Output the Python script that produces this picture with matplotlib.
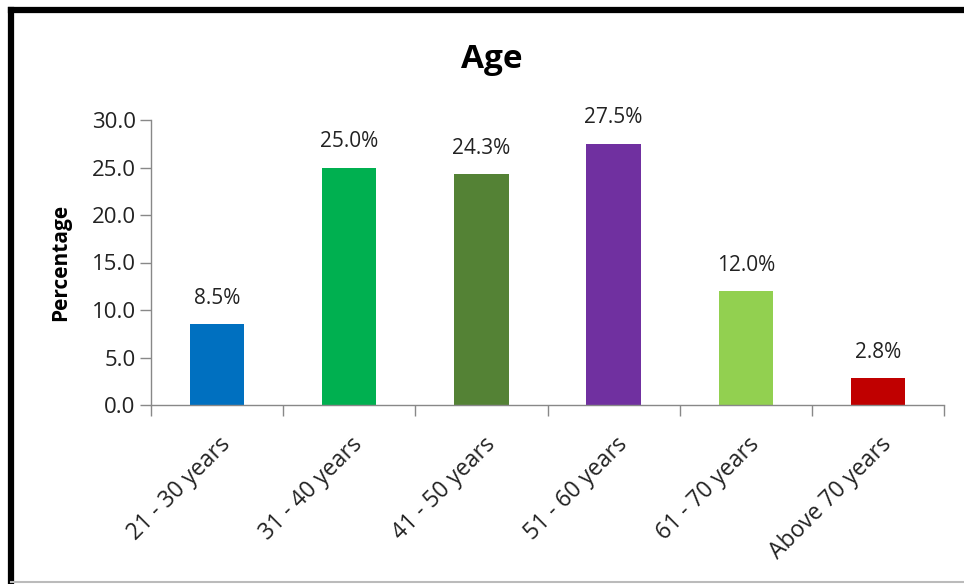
import matplotlib
matplotlib.use("Agg")
import matplotlib.pyplot as plt
from matplotlib.lines import Line2D
from matplotlib.transforms import ScaledTranslation

categories = ["21 - 30 years", "31 - 40 years", "41 - 50 years",
              "51 - 60 years", "61 - 70 years", "Above 70 years"]
values = [8.5, 25.0, 24.3, 27.5, 12.0, 2.8]
colors = ["#0070C0", "#00B050", "#548235", "#7030A0", "#92D050", "#C00000"]
yticks = [0, 5, 10, 15, 20, 25, 30]

plt.rcParams['font.family'] = ['Open Sans', 'DejaVu Sans']

W, H = 964, 584
fig = plt.figure(figsize=(W / 100, H / 100), dpi=100)
ax = fig.add_axes([151 / W, 1 - 405 / H, (944 - 151) / W, (405 - 120) / H])

x = range(len(categories))
ax.bar(x, values, width=0.41, color=colors, zorder=2)
for i, v in enumerate(values):
    ax.annotate(f"{v:.1f}%", (i, v), xytext=(0, 11), textcoords="offset points",
                ha="center", va="bottom", fontsize=15, color="#222222")

ax.set_xlim(-0.5, len(categories) - 0.5)
ax.set_ylim(0, 30)
ax.set_yticks(yticks)
ax.set_yticklabels([f"{t:.1f}" for t in yticks], fontsize=16, color="#222222")
ax.tick_params(axis="y", length=8, width=1, color="#888888", pad=3)

ax.set_xticks([i - 0.5 for i in range(len(categories) + 1)], minor=False)
ax.set_xticklabels([""] * (len(categories) + 1))
ax.tick_params(axis="x", length=8, width=1, color="#888888")
ax.set_xticks(list(x), minor=True)
ax.set_xticklabels(categories, minor=True, rotation=45, ha="right", va="center",
                   rotation_mode="anchor", fontsize=16.5, color="#222222")
ax.tick_params(axis="x", which="minor", length=0, pad=26)
shift = ScaledTranslation(0.10, 0, fig.dpi_scale_trans)
for lab in ax.get_xticklabels(minor=True):
    lab.set_transform(lab.get_transform() + shift)

for s in ["top", "right"]:
    ax.spines[s].set_visible(False)
for s in ["left", "bottom"]:
    ax.spines[s].set_color("#888888")
    ax.spines[s].set_linewidth(1)

ax.set_ylabel("Percentage", fontsize=15, fontweight="bold")
ax.yaxis.set_label_coords((71 - 151) / 793, 0.5)
fig.text(492 / W, 1 - 59 / H, "Age", ha="center", va="center",
         fontsize=24, fontweight="bold")

# outer frame
fig.add_artist(Line2D([11 / W, 11 / W], [0, 1 - 10 / H], color="black",
                      linewidth=4.5, transform=fig.transFigure, solid_capstyle="projecting"))
fig.add_artist(Line2D([11 / W, 1], [1 - 10 / H, 1 - 10 / H], color="black",
                      linewidth=4.5, transform=fig.transFigure, solid_capstyle="projecting"))
fig.add_artist(Line2D([11 / W, 1], [1 - 582 / H, 1 - 582 / H], color="#bbbbbb",
                      linewidth=1.5, transform=fig.transFigure))

fig.savefig("out.png", dpi=100)
